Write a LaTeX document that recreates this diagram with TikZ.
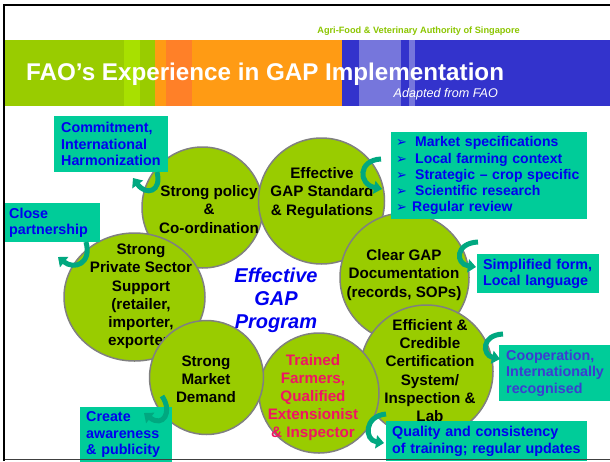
\documentclass[tikz,border=0pt]{standalone}
\usepackage{fontspec}
\setmainfont{Liberation Sans}
\newfontfamily\bulletfont{DejaVu Sans}
\usetikzlibrary{arrows.meta,shapes.geometric,positioning}

\definecolor{leaf}{RGB}{153,204,0}
\definecolor{leaflight}{RGB}{168,224,0}
\definecolor{tangerine}{RGB}{255,155,20}
\definecolor{rust}{RGB}{255,128,40}
\definecolor{royal}{RGB}{51,51,204}
\definecolor{lavender}{RGB}{118,118,220}
\definecolor{mint}{RGB}{0,204,153}
\definecolor{curlteal}{RGB}{0,168,128}
\definecolor{inkblue}{RGB}{0,0,240}
\definecolor{violetblue}{RGB}{60,60,210}
\definecolor{rose}{RGB}{240,20,100}
\definecolor{rim}{RGB}{128,128,128}
\definecolor{grassy}{RGB}{140,198,0}

\newcommand{\bul}[1]{\makebox[#1][l]{\bulletfont\fontsize{13}{13}\selectfont ➢}}

\begin{document}
\begin{tikzpicture}[x=1pt,y=-1pt,
  disc/.style={draw=rim,line width=1.5pt,fill=leaf,inner sep=0pt},
  disctext/.style={align=center,font=\fontsize{15.2}{18.2}\selectfont\bfseries},
  callout/.style={fill=mint,anchor=north west,inner ysep=0pt,align=left,text=inkblue,
    font=\fontsize{14.3}{16.5}\selectfont\bfseries},
  curl/.style={line width=5pt,draw=curlteal,-{Triangle[width=13pt,length=8pt]}}]
\useasboundingbox (0,0) rectangle (610,461);
\fill[white] (0,0) rectangle (610,461);

% title bar
\fill[leaf] (5,40) rectangle (155,106);
\fill[leaflight] (124,40) rectangle (140,106);
\fill[tangerine] (155,40) rectangle (342,106);
\fill[rust] (166,40) rectangle (192,106);
\fill[royal] (342,40) rectangle (610,106);
\fill[lavender] (359,40) rectangle (401,106);
\fill[lavender] (409,40) rectangle (415,106);
\node[anchor=base east,text=grassy,font=\fontsize{9.2}{11}\selectfont\bfseries,inner sep=0pt]
  (agency) at (520,33) {Agri-Food \& Veterinary Authority of Singapore};
\node[anchor=base west,text=white,font=\fontsize{24.2}{29}\selectfont\bfseries,inner sep=0pt]
  (title) at (26,80) {FAO’s Experience in GAP Implementation};
\node[anchor=base east,text=white,font=\fontsize{12.6}{15}\selectfont\itshape,inner sep=0pt]
  (source) at (498,97) {Adapted from FAO};

% circles, clockwise from the top left
\node[disc,circle,minimum size=121pt] (policy) at (202.5,207.5) {};
\node[disctext] (policyt) at (209,209.5) {Strong policy\\\&\\Co-ordination};
\node[disc,circle,minimum size=126pt] (standard) at (321.5,201) {};
\node[disctext] (standardt) at (322,193) {Effective\\GAP Standard\\\& Regulations};
\node[disc,circle,minimum size=129pt] (docs) at (404.5,277.5) {};
\node[disctext] (docst) at (404,275) {Clear GAP\\Documentation\\(records, SOPs)};
\node[disc,circle,minimum size=133pt] (cert) at (426.5,371.5) {};
\node[disctext] (certt) at (430,370.5) {Efficient \&\\Credible\\Certification\\System/\\Inspection \&\\Lab};
\node[disc,circle,minimum size=120pt] (trained) at (319,393) {};
\node[disctext,text=rose] (trainedt) at (313,397.5) {Trained\\Farmers,\\Qualified\\Extensionist\\\& Inspector};
\node[disc,ellipse,minimum width=141pt,minimum height=128pt] (private) at (134.5,297) {};
\node[disctext] (privatet) at (141,296.5) {Strong\\Private Sector\\Support\\(retailer,\\importer,\\exporter)};
\node[disc,circle,minimum size=114pt] (market) at (206.5,377.5) {};
\node[disctext] (markett) at (206,379.5) {Strong\\Market\\Demand};

% centre
\node[align=center,text=inkblue,font=\fontsize{20}{23}\selectfont\bfseries\itshape]
  (hub) at (276,300) {Effective\\GAP\\Program};

% callouts
\node[callout,minimum height=56pt,inner xsep=7pt,text width=100pt] (commit) at (54,116)
  {Commitment,\\International\\Harmonization};
\node[callout,minimum height=39pt,inner xsep=4pt,text width=87pt] (partner) at (5,203)
  {Close\\partnership};
\node[callout,minimum height=87pt,inner xsep=5pt,text width=186pt,
  font=\fontsize{14}{16.2}\selectfont\bfseries] (specs) at (391,132)
  {\bul{19pt}Market specifications\\\bul{19pt}Local farming context\\
   \bul{19pt}Strategic – crop specific\\\bul{19pt}Scientific research\\
   \bul{16pt}Regular review};
\node[callout,minimum height=39pt,inner xsep=6pt,text width=110pt] (simple) at (477,254)
  {Simplified form,\\Local language};
\node[callout,minimum height=56pt,inner xsep=7pt,text width=110pt,text=violetblue] (coop) at (499,345)
  {Cooperation,\\Internationally\\recognised};
\node[callout,minimum height=40pt,inner xsep=6pt,text width=189pt] (quality) at (386,421)
  {Quality and consistency\\of training; regular updates};
\node[callout,minimum height=55pt,inner xsep=6pt,text width=80pt] (aware) at (80,407)
  {Create\\awareness\\\& publicity};

% curved arrows
\coordinate (k1s) at (157,172); \coordinate (k1e) at (133,178);
\coordinate (k2s) at (86,242);  \coordinate (k2e) at (58,257);
\coordinate (k3s) at (381,159); \coordinate (k3e) at (382,189);
\coordinate (k4s) at (478,242); \coordinate (k4e) at (476,267);
\coordinate (k5s) at (503,334); \coordinate (k5e) at (500,359);
\coordinate (k6s) at (386,414); \coordinate (k6e) at (384,443);
\coordinate (k7s) at (162,396); \coordinate (k7e) at (144,413);
\draw[curl] (k1s) .. controls (162,192) and (146,196) .. (k1e);
\draw[curl] (k2s) .. controls (92,264) and (74,270) .. (k2e);
\draw[curl] (k3s) .. controls (358,160) and (358,184) .. (k3e);
\draw[curl] (k4s) .. controls (455,243) and (455,264) .. (k4e);
\draw[curl] (k5s) .. controls (481,335) and (482,355) .. (k5e);
\draw[curl] (k6s) .. controls (364,416) and (364,440) .. (k6e);
\draw[curl] (k7s) .. controls (173,412) and (163,428) .. (k7e);

% frame
\draw[line width=1.5pt,black!75] (4,459.5) -- (610,459.5);
\draw[line width=2pt] (4,461) -- (4,5) -- (610,5);
\end{tikzpicture}
\end{document}
